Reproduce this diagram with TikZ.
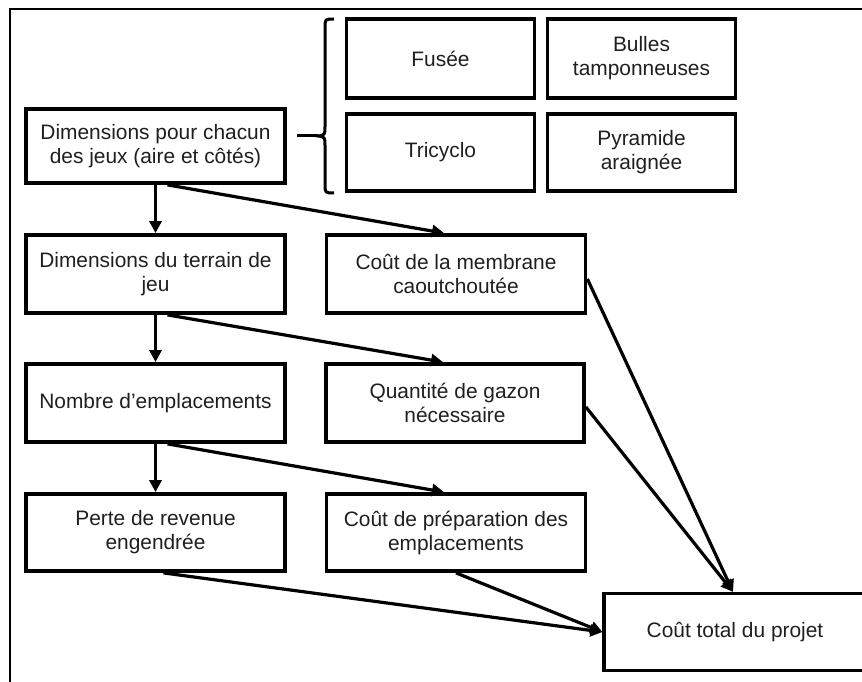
\documentclass[tikz,border=0pt]{standalone}
\usepackage{fontspec}
\setmainfont{Liberation Sans}
\usetikzlibrary{arrows.meta}
\begin{document}
\begin{tikzpicture}[x=1pt,y=-1pt,
  box/.style={draw, line width=3.8pt, inner sep=0pt, align=center,
    font=\fontsize{20.9}{24}\selectfont, text=black!88,
    minimum width=259pt, minimum height=78pt},
  gamebox/.style={box, minimum width=188pt},
  arr/.style={line width=3.2pt, -{Triangle[length=12pt,width=12pt]}},
  bracepath/.style={line width=3pt}]
\useasboundingbox (0,0) rectangle (862,682);
\clip (0,0) rectangle (862,682);
\draw[line width=1.8pt] (880,9) -- (10,9) -- (10,700);

\node[box, minimum height=74pt] (A) at (155.5,146) {Dimensions pour chacun\\des jeux (aire et côtés)};
\node[box] (B) at (155.5,274) {Dimensions du terrain de\\jeu};
\node[box] (C) at (155.5,403) {Nombre d’emplacements};
\node[box, minimum height=77pt] (D) at (155.5,532.5) {Perte de revenue\\engendrée};
\node[box] (E) at (456,274) {Coût de la membrane\\caoutchoutée};
\node[box, minimum width=258pt] (F) at (455,403) {Quantité de gazon\\nécessaire};
\node[box, minimum height=77pt] (G) at (456,532.5) {Coût de préparation des\\emplacements};

\node[gamebox, minimum height=79pt] (f1) at (440.5,58.5) {Fusée};
\node[gamebox, minimum height=79pt] (f2) at (641.5,58.5) {Bulles\\tamponneuses};
\node[gamebox, minimum height=77pt] (f3) at (440.5,152.5) {Tricyclo};
\node[gamebox, minimum height=77pt] (f4) at (641.5,152.5) {Pyramide\\araignée};

\node[box, line width=3.2pt, minimum width=262pt, minimum height=77pt] (T) at (735,632) {Coût total du projet};

% brace
\coordinate (bs) at (297,136);
\coordinate (bt) at (318,136);
\draw[bracepath] (334,19) .. controls (325,19) .. (325,28) -- (325,126)
  .. controls (325,135) .. (bt) .. controls (325,137) .. (325,146)
  -- (325,184) .. controls (325,193) .. (334,193);
\draw[bracepath] (bs) -- (bt);

% arrows
\draw[arr] (A.south) -- (B.north);
\draw[arr] ([xshift=12pt]A.south) -- ([xshift=-12pt]E.north);
\draw[arr] (B.south) -- (C.north);
\draw[arr] ([xshift=12pt]B.south) -- ([xshift=-12pt]F.north);
\draw[arr] (C.south) -- (D.north);
\draw[arr] ([xshift=12pt]C.south) -- ([xshift=-12pt]G.north);
\draw[arr] ([yshift=-5pt]E.east) -- ([xshift=-2pt]T.north);
\draw[arr] ([yshift=-4pt]F.east) -- ([xshift=-2pt]T.north);
\draw[arr] (G.south) -- (T.west);
\draw[arr] ([xshift=8pt]D.south) -- (T.west);
\end{tikzpicture}
\end{document}
